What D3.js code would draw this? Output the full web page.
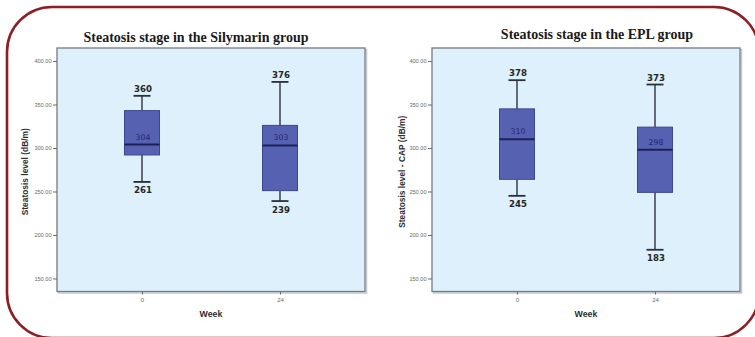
<!DOCTYPE html>
<html>
<head>
<meta charset="utf-8">
<script src="https://cdn.jsdelivr.net/npm/d3@7"></script>
<style>
  html, body { margin: 0; padding: 0; background: #fff; }
  svg { display: block; }
</style>
</head>
<body>
<svg id="chart" width="755" height="337"></svg>
<script>
// Week categories on the x axis
const weeks = ["0", "24"];

// Panel titles and y-axis titles
const titles = ["Steatosis stage in the Silymarin group", "Steatosis stage in the EPL group"];
const yTitles = ["Steatosis level (dB/m)", "Steatosis level - CAP (dB/m)"];

// Five-number summaries per week (dB/m)
const silyMin = [261, 239];
const silyQ1 = [292, 251];
const silyMedian = [304, 303];
const silyQ3 = [343, 326];
const silyMax = [360, 376];

const eplMin = [245, 183];
const eplQ1 = [264, 249];
const eplMedian = [310, 298];
const eplQ3 = [345, 324];
const eplMax = [378, 373];

// Y axis ticks
const yTicks = [150, 200, 250, 300, 350, 400];
const yTickLabels = ["150.00", "200.00", "250.00", "300.00", "350.00", "400.00"];

const groups = [
  { min: silyMin, q1: silyQ1, median: silyMedian, q3: silyQ3, max: silyMax },
  { min: eplMin, q1: eplQ1, median: eplMedian, q3: eplQ3, max: eplMax }
];

const svg = d3.select("#chart");

// Outer rounded frame
svg.append("rect")
  .attr("x", 7).attr("y", 7)
  .attr("width", 752).attr("height", 331)
  .attr("rx", 45).attr("ry", 45)
  .attr("fill", "none")
  .attr("stroke", "#8f1e24")
  .attr("stroke-width", 2.6);

const panels = [
  { left: 57, right: 365, titleX: 196, titleY: 42, yTitleX: 25, weekX: 211 },
  { left: 432, right: 740, titleX: 597, titleY: 39, yTitleX: 402, weekX: 586 }
];
const plotTop = 48, plotBottom = 291.5;

const y = d3.scaleLinear().domain([135, 415]).range([plotBottom, plotTop]);

panels.forEach((p, gi) => {
  const g = groups[gi];
  const x = d3.scalePoint().domain(weeks).range([p.left, p.right]).padding(0.616);
  const panel = svg.append("g");

  // Plot background with a soft shadow edge
  panel.append("rect")
    .attr("x", p.left + 1.5).attr("y", plotTop + 1.5)
    .attr("width", p.right - p.left).attr("height", plotBottom - plotTop)
    .attr("fill", "none").attr("stroke", "#c4c8cc").attr("stroke-width", 1.5);
  panel.append("rect")
    .attr("x", p.left).attr("y", plotTop)
    .attr("width", p.right - p.left).attr("height", plotBottom - plotTop)
    .attr("fill", "#ddf0fc").attr("stroke", "#757b82").attr("stroke-width", 1.3);

  // Title
  panel.append("text")
    .attr("x", p.titleX).attr("y", p.titleY)
    .attr("text-anchor", "middle")
    .attr("font-family", "Liberation Serif, Times New Roman, serif")
    .attr("font-weight", "bold").attr("font-size", 14)
    .attr("fill", "#1a1a1a")
    .text(titles[gi]);

  // Y axis
  const yAxis = d3.axisLeft(y).tickValues(yTicks)
    .tickFormat((d, i) => yTickLabels[i]).tickSize(4).tickPadding(1.5);
  const ya = panel.append("g").attr("transform", `translate(${p.left},0)`).call(yAxis);
  ya.select(".domain").remove();
  ya.selectAll("line").attr("stroke", "#6b6b6b");
  ya.selectAll("text").attr("font-family", "Liberation Sans, Arial, sans-serif")
    .attr("font-size", 5.6).attr("fill", "#6b6b6b");

  // X axis
  const xAxis = d3.axisBottom(x).tickSize(3).tickPadding(3);
  const xa = panel.append("g").attr("transform", `translate(0,${plotBottom})`).call(xAxis);
  xa.select(".domain").remove();
  xa.selectAll("line").attr("stroke", "#6b6b6b");
  xa.selectAll("text").attr("font-family", "Liberation Sans, Arial, sans-serif")
    .attr("font-size", 6).attr("fill", "#6b6b6b");

  // Axis titles
  panel.append("text")
    .attr("transform", `translate(${p.yTitleX},${(plotTop + plotBottom) / 2 + 2}) rotate(-90)`)
    .attr("text-anchor", "middle")
    .attr("dy", "0.35em")
    .attr("font-family", "Liberation Sans, Arial, sans-serif")
    .attr("font-weight", "bold").attr("font-size", 8.4)
    .attr("fill", "#2e2e2e")
    .text(yTitles[gi]);
  panel.append("text")
    .attr("x", p.weekX).attr("y", 317)
    .attr("text-anchor", "middle")
    .attr("font-family", "Liberation Sans, Arial, sans-serif")
    .attr("font-weight", "bold").attr("font-size", 8.8)
    .attr("fill", "#2e2e2e")
    .text("Week");

  // Box plots
  const boxW = 35, capW = 17;
  weeks.forEach((w, i) => {
    const cx = x(w);
    const bg = panel.append("g");
    // whiskers
    bg.append("line").attr("x1", cx).attr("x2", cx)
      .attr("y1", y(g.max[i])).attr("y2", y(g.q3[i]))
      .attr("stroke", "#3a3f4a").attr("stroke-width", 1.5);
    bg.append("line").attr("x1", cx).attr("x2", cx)
      .attr("y1", y(g.q1[i])).attr("y2", y(g.min[i]))
      .attr("stroke", "#3a3f4a").attr("stroke-width", 1.5);
    [g.max[i], g.min[i]].forEach(v => {
      bg.append("line").attr("x1", cx - capW / 2).attr("x2", cx + capW / 2)
        .attr("y1", y(v)).attr("y2", y(v))
        .attr("stroke", "#2b2f38").attr("stroke-width", 1.8);
    });
    // box
    bg.append("rect")
      .attr("x", cx - boxW / 2).attr("y", y(g.q3[i]))
      .attr("width", boxW).attr("height", y(g.q1[i]) - y(g.q3[i]))
      .attr("fill", "#5661b1").attr("stroke", "#3d4690").attr("stroke-width", 1);
    // median
    bg.append("line").attr("x1", cx - boxW / 2).attr("x2", cx + boxW / 2)
      .attr("y1", y(g.median[i])).attr("y2", y(g.median[i]))
      .attr("stroke", "#1c2158").attr("stroke-width", 2);
    bg.append("text")
      .attr("x", cx + 1).attr("y", y(g.median[i]) - 5)
      .attr("text-anchor", "middle")
      .attr("font-family", "DejaVu Sans, sans-serif")
      .attr("font-size", 7.8).attr("fill", "#1f2570")
      .text(g.median[i]);
    // whisker value labels
    bg.append("text")
      .attr("x", cx + 1).attr("y", y(g.max[i]) - 4)
      .attr("text-anchor", "middle")
      .attr("font-family", "DejaVu Sans, sans-serif")
      .attr("font-weight", "bold").attr("font-size", 8.6).attr("fill", "#262626")
      .text(g.max[i]);
    bg.append("text")
      .attr("x", cx + 1).attr("y", y(g.min[i]) + 11.5)
      .attr("text-anchor", "middle")
      .attr("font-family", "DejaVu Sans, sans-serif")
      .attr("font-weight", "bold").attr("font-size", 8.6).attr("fill", "#262626")
      .text(g.min[i]);
  });
});
</script>
</body>
</html>
